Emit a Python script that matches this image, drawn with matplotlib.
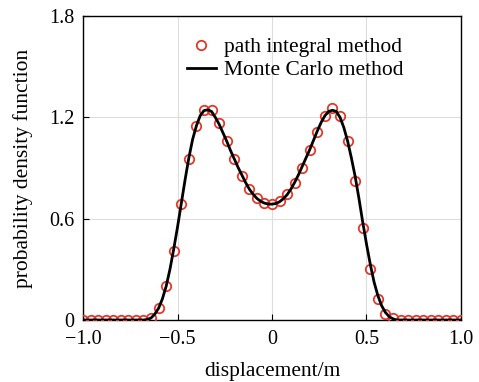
import numpy as np
import matplotlib.pyplot as plt

plt.rcParams['font.family'] = ['Liberation Serif', 'DejaVu Serif']
plt.rcParams['mathtext.fontset'] = 'stix'

# path integral method (markers, step 0.04 from -1 to 1)
pi_x = [-1.00, -0.96, -0.92, -0.88, -0.84, -0.80, -0.76, -0.72, -0.68, -0.64,
        -0.60, -0.56, -0.52, -0.48, -0.44, -0.40, -0.36, -0.32, -0.28, -0.24,
        -0.20, -0.16, -0.12, -0.08, -0.04, 0.00, 0.04, 0.08, 0.12, 0.16,
        0.20, 0.24, 0.28, 0.32, 0.36, 0.40, 0.44, 0.48, 0.52, 0.56,
        0.60, 0.64, 0.68, 0.72, 0.76, 0.80, 0.84, 0.88, 0.92, 0.96, 1.00]
pi_y = [0.0, 0.0, 0.0, 0.0, 0.0, 0.0, 0.0, 0.0, 0.0, 0.01,
        0.07, 0.20, 0.41, 0.687, 0.951, 1.149, 1.243, 1.243, 1.168, 1.062,
        0.951, 0.853, 0.774, 0.724, 0.695, 0.687, 0.705, 0.744, 0.813, 0.902,
        1.006, 1.115, 1.21, 1.253, 1.208, 1.06, 0.825, 0.547, 0.30, 0.124,
        0.036, 0.01, 0.0, 0.0, 0.0, 0.0, 0.0, 0.0, 0.0, 0.0, 0.0]

# Monte Carlo method (line)
mc_x = [-1.00, -0.70, -0.68, -0.66, -0.64, -0.62, -0.60, -0.58, -0.56, -0.54,
        -0.52, -0.50, -0.48, -0.46, -0.44, -0.42, -0.40, -0.38, -0.36, -0.34,
        -0.32, -0.30, -0.28, -0.26, -0.24, -0.22, -0.20, -0.18, -0.16, -0.14,
        -0.12, -0.10, -0.08, -0.06, -0.04, -0.02, 0.00, 0.02, 0.04, 0.06,
        0.08, 0.10, 0.12, 0.14, 0.16, 0.18, 0.20, 0.22, 0.24, 0.26,
        0.28, 0.30, 0.32, 0.34, 0.36, 0.38, 0.40, 0.42, 0.44, 0.46,
        0.48, 0.50, 0.52, 0.54, 0.56, 0.58, 0.60, 0.62, 0.64, 0.66,
        0.68, 1.00]
mc_y = [0.0, 0.0, 0.0, 0.003, 0.012, 0.035, 0.07, 0.125, 0.20, 0.30,
        0.42, 0.55, 0.69, 0.83, 0.96, 1.07, 1.15, 1.21, 1.24, 1.245,
        1.235, 1.20, 1.16, 1.11, 1.06, 1.005, 0.955, 0.905, 0.86, 0.815,
        0.775, 0.745, 0.72, 0.703, 0.692, 0.687, 0.686, 0.69, 0.70, 0.718,
        0.742, 0.775, 0.815, 0.86, 0.91, 0.96, 1.01, 1.065, 1.12, 1.17,
        1.21, 1.235, 1.242, 1.235, 1.20, 1.14, 1.06, 0.96, 0.85, 0.72,
        0.58, 0.45, 0.33, 0.225, 0.145, 0.085, 0.045, 0.02, 0.007, 0.0,
        0.0, 0.0]

xticks = [-1.0, -0.5, 0, 0.5, 1.0]
xlabels = ['\u22121.0', '\u22120.5', '0', '0.5', '1.0']
yticks = [0, 0.6, 1.2, 1.8]
ylabels = ['0', '0.6', '1.2', '1.8']

fig = plt.figure(figsize=(4.79, 3.82), dpi=100)
ax = fig.add_axes([0.1733, 0.1623, 0.7891, 0.7957])

ax.plot(pi_x, pi_y, 'o', mfc='none', mec='#e0392b', ms=6.8, mew=1.3,
        label='path integral method', zorder=3)
ax.plot(mc_x, mc_y, '-', color='black', lw=2.0, label='Monte Carlo method', zorder=4)

ax.set_xlim(-1.0, 1.0)
ax.set_ylim(0, 1.8)
ax.set_xticks(xticks)
ax.set_xticklabels(xlabels)
ax.set_yticks(yticks)
ax.set_yticklabels(ylabels)
ax.tick_params(direction='in', length=4, labelsize=14.5, top=False, right=False)
ax.tick_params(axis='x', pad=7.5)
ax.tick_params(axis='y', pad=6)
ax.grid(True, color='#dddddd', lw=0.8)
ax.set_axisbelow(True)
for s in ax.spines.values():
    s.set_linewidth(1.0)

ax.set_xlabel('displacement/m', fontsize=15.5, labelpad=9)
ax.set_ylabel('probability density function', fontsize=15.5, labelpad=12)

ax.legend(loc='upper left', bbox_to_anchor=(0.275, 0.93), frameon=False,
          fontsize=15.5, handlelength=1.35, handletextpad=0.37, labelspacing=0.12,
          borderpad=0.0, borderaxespad=0.0)

fig.savefig('out.png', dpi=100)
